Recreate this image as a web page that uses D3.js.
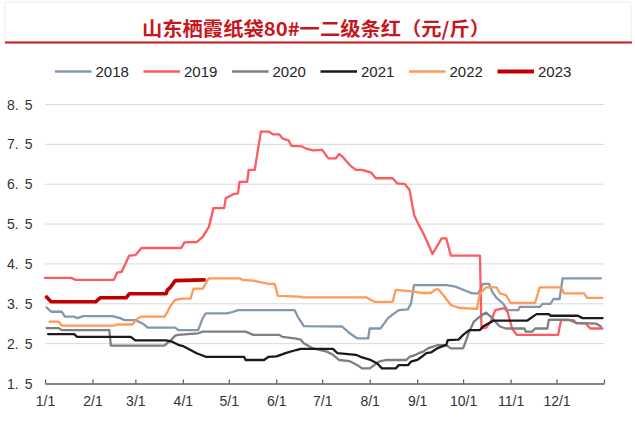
<!DOCTYPE html>
<html><head><meta charset="utf-8">
<script src="https://cdn.jsdelivr.net/npm/d3@7/dist/d3.min.js"></script>
<style>
body{margin:0;background:#fff;}
svg{display:block;font-family:"Liberation Sans",Arial,sans-serif;}
</style>
</head><body>
<svg id="chart" width="635" height="424"></svg>
<script>
const titleText = "山东栖霞纸袋80#一二级条红（元/斤）";
const seriesNames = ["2018","2019","2020","2021","2022","2023"];
const seriesColors = ["#8497B0","#FF5A5F","#7F7F7F","#1A1A1A","#FF9A57","#C00000"];
const seriesWidths = [2.3,2.3,2.3,2.3,2.3,3.6];

const dates2018 = ["1/2","1/5","1/12","1/14","1/20","1/22","1/26","2/14","2/19","2/22","3/1","3/6","3/9","3/27","3/29","4/11","4/14","4/16","4/30","5/4","5/7","6/13","6/15","6/19","7/14","7/19","7/24","7/31","8/1","8/8","8/13","8/17","8/20","8/26","8/28","8/30","9/20","9/26","10/3","10/7","10/11","10/14","10/18","10/20","10/23","10/27","10/30","11/6","11/7","11/20","11/22","11/27","11/29","12/3","12/5","12/30"];
const values2018 = [3.41,3.3,3.3,3.18,3.18,3.14,3.19,3.19,3.14,3.09,3.09,3.0,2.9,2.9,2.84,2.84,3.14,3.26,3.26,3.3,3.34,3.34,3.18,2.94,2.93,2.76,2.63,2.63,2.88,2.88,3.14,3.26,3.34,3.36,3.51,3.97,3.97,3.93,3.82,3.76,3.76,4.0,4.0,3.8,3.64,3.51,3.34,3.34,3.42,3.42,3.5,3.5,3.62,3.62,4.14,4.14];

const dates2019 = ["1/1","1/18","1/21","2/15","2/17","2/20","2/25","3/1","3/5","3/31","4/2","4/10","4/14","4/18","4/21","4/28","4/29","5/4","5/7","5/8","5/13","5/14","5/18","5/20","5/22","5/27","5/30","6/3","6/5","6/9","6/11","6/18","6/20","6/25","7/1","7/5","7/10","7/12","7/14","7/19","7/23","7/27","8/2","8/5","8/16","8/19","8/24","8/27","8/30","9/2","9/5","9/9","9/11","9/17","9/20","9/23","10/12","10/13","10/16","10/19","10/22","10/28","10/30","11/2","11/5","12/2","12/4","12/12","12/14","12/20","12/23","12/31"];
const values2019 = [4.15,4.15,4.1,4.1,4.28,4.3,4.71,4.72,4.9,4.9,5.04,5.05,5.18,5.43,5.9,5.9,6.15,6.25,6.27,6.56,6.56,6.86,6.86,7.36,7.82,7.82,7.75,7.75,7.65,7.6,7.46,7.45,7.4,7.35,7.36,7.15,7.15,7.26,7.2,6.98,6.86,6.86,6.79,6.65,6.65,6.52,6.5,6.36,5.73,5.48,5.27,4.93,4.75,5.14,5.14,4.71,4.71,2.88,2.9,3.05,3.34,3.39,3.3,2.88,2.72,2.72,3.09,3.09,3.01,3.01,2.88,2.88];

const dates2020 = ["1/2","1/10","1/12","2/12","2/13","3/20","3/22","3/24","3/27","3/29","4/11","4/14","5/12","5/17","6/3","6/5","6/13","6/17","6/19","6/25","7/4","7/8","7/12","7/19","7/24","7/27","8/1","8/4","8/7","8/12","8/25","8/27","8/31","9/2","9/5","9/8","9/14","9/20","9/23","10/1","10/3","10/5","10/8","10/12","10/16","10/19","10/23","10/25","10/29","11/10","11/11","11/15","11/17","11/25","11/26","12/9","12/14","12/27","12/30"];
const values2020 = [2.89,2.89,2.84,2.84,2.45,2.45,2.52,2.58,2.7,2.72,2.76,2.8,2.8,2.72,2.72,2.67,2.63,2.6,2.51,2.38,2.3,2.22,2.09,2.06,1.96,1.88,1.88,1.96,2.05,2.09,2.09,2.17,2.22,2.26,2.3,2.38,2.46,2.46,2.38,2.38,2.59,2.8,3.05,3.18,3.28,3.18,3.01,2.93,2.88,2.88,2.8,2.8,2.88,2.88,3.1,3.1,3.02,3.0,2.93];

const dates2021 = ["1/3","1/20","1/22","2/26","3/1","3/21","3/25","3/29","4/1","4/6","4/10","4/16","5/11","5/12","5/24","5/27","6/1","6/4","6/7","6/14","6/17","7/8","7/11","7/23","7/26","8/1","8/6","8/9","8/18","8/20","8/26","8/28","9/1","9/4","9/7","9/10","9/14","9/20","9/21","9/28","10/1","10/5","10/12","10/14","10/21","11/12","11/16","11/18","11/26","11/27","12/15","12/18","12/31"];
const values2021 = [2.74,2.74,2.67,2.67,2.58,2.58,2.55,2.47,2.44,2.34,2.26,2.17,2.17,2.09,2.09,2.17,2.18,2.22,2.26,2.34,2.37,2.37,2.26,2.22,2.17,2.1,2.0,1.88,1.88,1.96,1.96,2.05,2.09,2.17,2.26,2.28,2.38,2.47,2.59,2.6,2.72,2.84,2.84,2.93,3.08,3.08,3.19,3.24,3.24,3.2,3.2,3.14,3.14];

const dates2022 = ["1/4","1/10","1/12","2/15","2/17","2/27","3/2","3/5","3/20","3/22","3/24","3/27","4/1","4/6","4/8","4/14","4/16","4/18","5/8","5/10","5/17","5/23","5/27","5/31","6/2","6/16","6/18","7/30","8/3","8/5","8/16","8/18","8/27","9/5","9/10","9/13","9/15","9/18","9/23","9/28","10/10","10/12","10/16","10/23","10/25","10/29","11/1","11/17","11/20","12/4","12/6","12/19","12/21","12/31"];
const values2022 = [3.05,3.05,2.95,2.95,2.98,2.98,3.12,3.18,3.18,3.3,3.45,3.6,3.63,3.63,3.88,3.88,4.01,4.14,4.14,4.1,4.08,4.03,4.0,4.0,3.7,3.68,3.66,3.66,3.57,3.55,3.55,3.85,3.82,3.77,3.77,3.86,3.86,3.72,3.47,3.4,3.37,3.76,3.91,3.91,3.76,3.72,3.52,3.52,3.91,3.91,3.76,3.76,3.65,3.65];

const dates2023 = ["1/2","1/5","2/3","2/6","2/23","2/25","3/21","3/22","3/24","3/27","4/15"];
const values2023 = [3.67,3.55,3.55,3.65,3.65,3.75,3.75,3.85,3.92,4.08,4.1];

const yTickValues = [1.5,2.5,3.5,4.5,5.5,6.5,7.5,8.5];
const xTickLabels = ["1/1","2/1","3/1","4/1","5/1","6/1","7/1","8/1","9/1","10/1","11/1","12/1",""];

const allDates = [dates2018,dates2019,dates2020,dates2021,dates2022,dates2023];
const allValues = [values2018,values2019,values2020,values2021,values2022,values2023];

const REF_YEAR = 2021;
const parseMD = s => { const [m,d] = s.split("/").map(Number); return new Date(REF_YEAR, m-1, d); };

const svg = d3.select("#chart");
const x = d3.scaleTime().domain([new Date(REF_YEAR,0,1), new Date(REF_YEAR+1,0,1)]).range([45,604]);
const y = d3.scaleLinear().domain([1.5,8.5]).range([383.5,104.5]);

// title box
svg.append("rect").attr("x",5).attr("y",2).attr("width",626).attr("height",40)
  .attr("fill","#fff").attr("stroke","#ECECEC").attr("stroke-width",1);
svg.append("line").attr("x1",5).attr("x2",632).attr("y1",42.5).attr("y2",42.5)
  .attr("stroke","#C8161E").attr("stroke-width",2);
svg.append("text").attr("x",316).attr("y",27).attr("text-anchor","middle")
  .attr("dominant-baseline","central")
  .attr("font-family","'Noto Sans CJK SC',sans-serif").attr("font-size",19)
  .attr("font-weight","bold")
  .attr("fill","#C8161E").attr("textLength",348).attr("lengthAdjust","spacingAndGlyphs")
  .text(titleText);

// legend
const legend = svg.append("g");
seriesNames.forEach((n,i)=>{
  const lx = 55 + i*88.5;
  legend.append("line").attr("x1",lx).attr("x2",lx+36.5).attr("y1",71.5).attr("y2",71.5)
    .attr("stroke",seriesColors[i]).attr("stroke-width",i===5?4:2.6);
  legend.append("text").attr("x",lx+40.5).attr("y",76.5).attr("font-size",15)
    .attr("fill","#262626").text(n);
});

// gridlines
svg.append("g").selectAll("line").data(yTickValues.filter(v=>v>1.5)).join("line")
  .attr("x1",45).attr("x2",604).attr("y1",d=>y(d)).attr("y2",d=>y(d))
  .attr("stroke","#D9D9D9").attr("stroke-width",1);

// y labels
const yl = svg.append("g");
yTickValues.forEach(v=>{
  const s = v.toFixed(1);
  const t = yl.append("text").attr("x",7).attr("y",y(v)+5).attr("font-size",14).attr("fill","#333");
  t.append("tspan").text(s.slice(0,2));
  t.append("tspan").attr("dx",6).text(s.slice(2));
});

// x axis
const xTickDates = d3.range(13).map(i=>new Date(REF_YEAR,i,1));
const xAxis = d3.axisBottom(x).tickValues(xTickDates)
  .tickFormat((d,i)=>xTickLabels[i]).tickSizeInner(-4).tickSizeOuter(0).tickPadding(13);
const gx = svg.append("g").attr("transform","translate(0,383.5)").call(xAxis);
gx.select(".domain").attr("stroke","#595959").attr("stroke-width",1.4);
gx.selectAll(".tick line").attr("stroke","#595959").attr("stroke-width",1.2);
gx.selectAll(".tick text").attr("font-size",14).attr("fill","#333")
  .attr("font-family","'Liberation Sans',Arial,sans-serif");

// lines
const line = d3.line().x(d=>x(d[0])).y(d=>y(d[1]));
const gl = svg.append("g");
seriesNames.forEach((n,i)=>{
  const pts = allDates[i].map((d,j)=>[parseMD(d), allValues[i][j]]);
  gl.append("path").datum(pts).attr("d",line).attr("fill","none")
    .attr("stroke",seriesColors[i]).attr("stroke-width",seriesWidths[i])
    .attr("stroke-linejoin","round").attr("stroke-linecap","round");
});
</script>
</body></html>
